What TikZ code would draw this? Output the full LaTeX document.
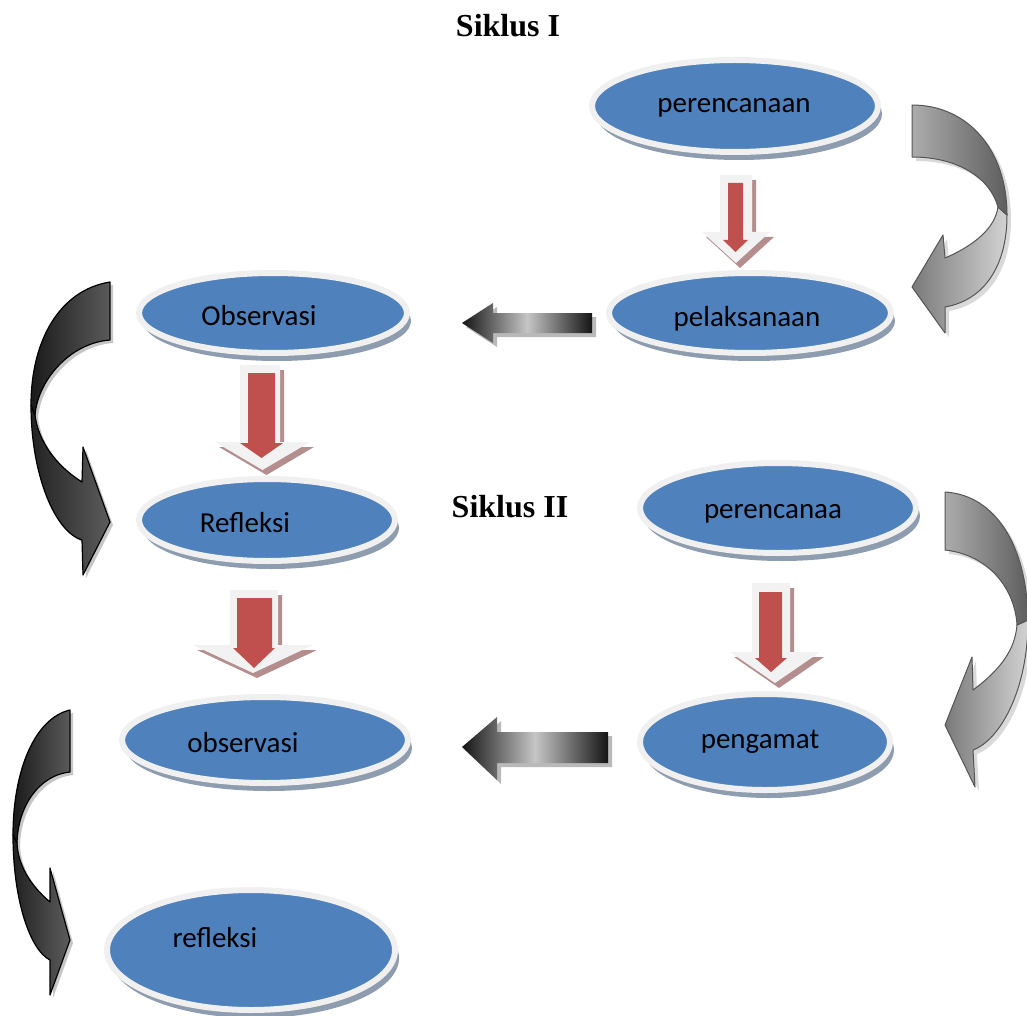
\documentclass[tikz,border=0pt]{standalone}
\usepackage{fontspec}
\setmainfont{Carlito}
\newfontfamily\titlefont{Liberation Serif}
\usetikzlibrary{shapes.geometric,shadows}
\definecolor{ellblue}{HTML}{4F81BD}
\definecolor{ellborder}{HTML}{F0F0F0}
\definecolor{ellshadow}{HTML}{8E9CB0}
\definecolor{arrowred}{HTML}{C0504D}
\definecolor{arrowlight}{HTML}{F2F2F2}
\definecolor{redshade}{RGB}{180,142,142}
\definecolor{cgtop1}{HTML}{ACACAC}
\definecolor{cgtop2}{HTML}{5E5E5E}
\definecolor{cgbot1}{HTML}{7A7A7A}
\definecolor{cgbot2}{HTML}{D2D2D2}
\definecolor{cgline}{HTML}{555555}
\definecolor{cdtop1}{HTML}{1A1A1A}
\definecolor{cdtop2}{HTML}{5A5A5A}
\definecolor{cdbot1}{HTML}{222222}
\definecolor{cdbot2}{HTML}{5C5C5C}
\newcommand{\blockdown}[8]{%
  \path[#1] (#2,#4) -- (#3,#4) -- (#3,#5) -- (#7,#5) -- ({(#6+#7)/2},#8) -- (#6,#5) -- (#2,#5) -- cycle;}
\begin{document}
\begin{tikzpicture}[x=1pt,y=-1pt,
  ell/.style={ellipse, draw=ellborder, line width=6pt, fill=ellblue, inner sep=0pt,
    drop shadow={shadow xshift=4pt, shadow yshift=-8pt, fill=ellshadow, opacity=1}},
  lbl/.style={font=\fontsize{29}{34}\selectfont, anchor=base, inner sep=0pt, text=black},
  ttl/.style={font=\titlefont\bfseries\fontsize{32}{38}\selectfont, anchor=base, inner sep=0pt},
  redout/.style={fill=arrowlight},
  redsh/.style={fill=redshade, shift={(4,5)}},
  redin/.style={fill=arrowred},
  grayarr/.style={left color=black!92, right color=black!92, middle color=gray!45},
  graysh/.style={fill=gray!55, shift={(4,4)}},
  cgline/.style={draw=cgline, line width=1pt, line join=round},
  cdline/.style={draw=black, line width=1.2pt, line join=round},
  cgsh/.style={fill=gray!30, shift={(4,4)}},
  cdsh/.style={fill=gray!45, shift={(3,3)}}]
\useasboundingbox (0,0) rectangle (1027,1016);

% ellipses
\node[ell, minimum width=286pt, minimum height=92pt] (e1) at (735,106) {};
\node[ell, minimum width=282pt, minimum height=80pt] (e2) at (750,313) {};
\node[ell, minimum width=268pt, minimum height=80pt] (e3) at (273,313) {};
\node[ell, minimum width=256pt, minimum height=82pt] (e4) at (267,520) {};
\node[ell, minimum width=276pt, minimum height=90pt] (e5) at (778,508) {};
\node[ell, minimum width=250pt, minimum height=96pt] (e6) at (765,742) {};
\node[ell, minimum width=286pt, minimum height=86pt] (e7) at (265,740) {};
\node[ell, minimum width=288pt, minimum height=120pt] (e8) at (251,950) {};

% labels
\node[lbl] (t1) at (734,113) {perencanaan};
\node[lbl] (t2) at (747,326) {pelaksanaan};
\node[lbl] (t3) at (259,325) {Observasi};
\node[lbl] (t4) at (245,532) {Refleksi};
\node[lbl] (t5) at (773,518) {perencanaa};
\node[lbl] (t6) at (760,748) {pengamat};
\node[lbl] (t7) at (243,752) {observasi};
\node[lbl] (t8) at (215,947) {refleksi};
\node[ttl] (s1) at (508,37) {Siklus I};
\node[ttl] (s2) at (510,517) {Siklus II};

% red down arrows
\blockdown{redsh}{720}{752}{175}{232}{702}{770}{263}
\blockdown{redout}{720}{752}{175}{232}{702}{770}{263}
\blockdown{redin}{728}{743}{183}{240}{723}{748}{252}

\blockdown{redsh}{240}{280}{365}{442}{215}{310}{470}
\blockdown{redout}{240}{280}{365}{442}{215}{310}{470}
\blockdown{redin}{248}{275}{373}{443}{240}{283}{458}

\blockdown{redsh}{230}{278}{590}{645}{193}{313}{673}
\blockdown{redout}{230}{278}{590}{645}{193}{313}{673}
\blockdown{redin}{237}{272}{598}{648}{233}{275}{668}

\blockdown{redsh}{752}{790}{583}{652}{730}{820}{683}
\blockdown{redout}{752}{790}{583}{652}{730}{820}{683}
\blockdown{redin}{759}{782}{592}{658}{755}{787}{672}

% gray left arrows
\path[graysh] (462,323) -- (493,303) -- (493,313) -- (592,313) -- (592,333) -- (493,333) -- (493,343) -- cycle;
\path[grayarr] (462,323) -- (493,303) -- (493,313) -- (592,313) -- (592,333) -- (493,333) -- (493,343) -- cycle;
\path[graysh] (462,747) -- (497,717) -- (497,732) -- (608,732) -- (608,763) -- (497,763) -- (497,780) -- cycle;
\path[grayarr] (462,747) -- (497,717) -- (497,732) -- (608,732) -- (608,763) -- (497,763) -- (497,780) -- cycle;

% curved gray arrow 1 (right, top)
\path[cgsh] (912,105) .. controls (968,105) and (1007,150) .. (1007,215)
  .. controls (1007,265) and (985,300) .. (945,307) -- (945,333) -- (912,287) -- (943,235) -- (945,258)
  .. controls (975,245) and (995,228) .. (998,207) .. controls (990,178) and (958,157) .. (912,157) -- cycle;
\path[cgline, left color=cgbot1, right color=cgbot2] (1007,215)
  .. controls (1007,265) and (985,300) .. (945,307) -- (945,333) -- (912,287) -- (943,235) -- (945,258)
  .. controls (975,245) and (995,228) .. (998,207) -- cycle;
\path[cgline, left color=cgtop1, right color=cgtop2] (912,105) .. controls (968,105) and (1007,150) .. (1007,215)
  -- (998,207) .. controls (990,178) and (958,157) .. (912,157) -- cycle;

% curved gray arrow 2 (right, bottom)
\path[cgsh] (945,492) .. controls (995,495) and (1027,545) .. (1028,620)
  .. controls (1028,690) and (1000,740) .. (973,750) -- (975,787) -- (945,725) -- (972,657) -- (973,690)
  .. controls (1000,670) and (1015,650) .. (1017,625) .. controls (1015,590) and (990,555) .. (945,550) -- cycle;
\path[cgline, left color=cgbot1, right color=cgbot2] (1028,620)
  .. controls (1028,690) and (1000,740) .. (973,750) -- (975,787) -- (945,725) -- (972,657) -- (973,690)
  .. controls (1000,670) and (1015,650) .. (1017,625) -- cycle;
\path[cgline, left color=cgtop1, right color=cgtop2] (945,492) .. controls (995,495) and (1027,545) .. (1028,620)
  -- (1017,625) .. controls (1015,590) and (990,555) .. (945,550) -- cycle;

% curved dark arrow 1 (left, top)
\path[cdsh] (110,282) .. controls (60,290) and (31,340) .. (31,405)
  .. controls (31,475) and (55,532) .. (82,540) -- (83,575) -- (110,522) -- (83,447) -- (82,482)
  .. controls (55,465) and (38,440) .. (35,415) .. controls (38,380) and (70,343) .. (110,340) -- cycle;
\path[cdline, left color=cdbot1, right color=cdbot2] (31,405)
  .. controls (31,475) and (55,532) .. (82,540) -- (83,575) -- (110,522) -- (83,447) -- (82,482)
  .. controls (55,465) and (38,440) .. (35,415) -- cycle;
\path[cdline, left color=cdtop1, right color=cdtop2] (110,282) .. controls (60,290) and (31,340) .. (31,405)
  -- (35,415) .. controls (38,380) and (70,343) .. (110,340) -- cycle;

% curved dark arrow 2 (left, bottom)
\path[cdsh] (70,710) .. controls (35,718) and (13,770) .. (13,835)
  .. controls (13,900) and (30,950) .. (50,960) -- (50,995) -- (70,940) -- (50,868) -- (50,902)
  .. controls (30,885) and (18,865) .. (17,843) .. controls (18,805) and (40,775) .. (70,772) -- cycle;
\path[cdline, left color=cdbot1, right color=cdbot2] (13,835)
  .. controls (13,900) and (30,950) .. (50,960) -- (50,995) -- (70,940) -- (50,868) -- (50,902)
  .. controls (30,885) and (18,865) .. (17,843) -- cycle;
\path[cdline, left color=cdtop1, right color=cdtop2] (70,710) .. controls (35,718) and (13,770) .. (13,835)
  -- (17,843) .. controls (18,805) and (40,775) .. (70,772) -- cycle;
\end{tikzpicture}
\end{document}
